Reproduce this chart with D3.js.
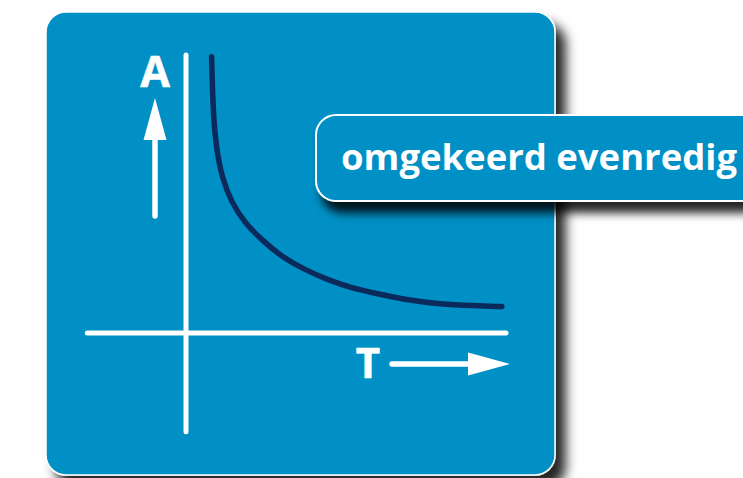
<!DOCTYPE html>
<html>
<head>
<meta charset="utf-8">
<script src="https://cdn.jsdelivr.net/npm/d3@7"></script>
<style>
  html, body { margin: 0; padding: 0; background: #ffffff; }
  svg { display: block; }
</style>
</head>
<body>
<script>
// ---- data ----
const T_values = [0.96, 1.02, 1.15, 1.34, 1.71, 2.21, 2.84, 3.59, 4.46, 5.33, 6.21, 7.01, 8.28, 9.53, 10.76, 11.84];
const A_values = [9.94, 7.78, 6.58, 5.62, 4.68, 3.96, 3.35, 2.74, 2.27, 1.91, 1.62, 1.44, 1.19, 1.04, 0.98, 0.95];
const xAxisExtent = [-3.7, 12];
const yAxisExtent = [-3.55, 10];
const xLabel = "T";
const yLabel = "A";
const titleLabel = "omgekeerd evenredig";

const W = 743, H = 478;
const blue = "#0090c5", navy = "#0b2a5c";

const svg = d3.select("body").append("svg").attr("width", W).attr("height", H);
const defs = svg.append("defs");
const f1 = defs.append("filter").attr("id", "shPanel").attr("x", "-10%").attr("y", "-10%").attr("width", "130%").attr("height", "130%");
f1.append("feDropShadow").attr("dx", 10).attr("dy", 12).attr("stdDeviation", 6)
  .attr("flood-color", "#000").attr("flood-opacity", 0.85);
const f2 = defs.append("filter").attr("id", "shLabel").attr("x", "-10%").attr("y", "-20%").attr("width", "130%").attr("height", "160%");
f2.append("feDropShadow").attr("dx", 6).attr("dy", 11).attr("stdDeviation", 5)
  .attr("flood-color", "#000").attr("flood-opacity", 0.85);

// panel
svg.append("rect").attr("x", 46).attr("y", 12).attr("width", 509).attr("height", 463)
  .attr("rx", 20).attr("fill", blue).attr("stroke", "#fff").attr("stroke-width", 1.5)
  .attr("filter", "url(#shPanel)");

// scales
const x = d3.scaleLinear().domain([0, 12]).range([186, 506]);
const y = d3.scaleLinear().domain([0, 10]).range([333, 55]);

const g = svg.append("g");
// axes
g.append("line").attr("x1", x(xAxisExtent[0])).attr("x2", x(xAxisExtent[1]))
  .attr("y1", y(0)).attr("y2", y(0))
  .attr("stroke", "#fff").attr("stroke-width", 5).attr("stroke-linecap", "round");
g.append("line").attr("x1", x(0)).attr("x2", x(0))
  .attr("y1", y(yAxisExtent[1])).attr("y2", y(yAxisExtent[0]))
  .attr("stroke", "#fff").attr("stroke-width", 5).attr("stroke-linecap", "round");

// curve
const pts = T_values.map((t, i) => [t, A_values[i]]);
g.append("path").datum(pts)
  .attr("d", d3.line().x(d => x(d[0])).y(d => y(d[1])).curve(d3.curveBasis))
  .attr("fill", "none").attr("stroke", navy).attr("stroke-width", 5.5).attr("stroke-linecap", "round");

// y label + up arrow
g.append("text").attr("x", 155).attr("y", 87).attr("text-anchor", "middle")
  .attr("font-family", "Open Sans, sans-serif").attr("font-weight", 700).attr("font-size", 43)
  .attr("fill", "#fff").attr("stroke", "#fff").attr("stroke-width", 0.6).attr("stroke-linejoin", "round")
  .text(yLabel);
g.append("line").attr("x1", 155).attr("x2", 155).attr("y1", 216).attr("y2", 138)
  .attr("stroke", "#fff").attr("stroke-width", 5.5).attr("stroke-linecap", "round");
g.append("path").attr("d", "M155,98 L166.5,140 L143.5,140 Z").attr("fill", "#fff");

// x label + right arrow
g.append("text").attr("x", 368).attr("y", 378).attr("text-anchor", "middle")
  .attr("font-family", "Open Sans, sans-serif").attr("font-weight", 700).attr("font-size", 42)
  .attr("fill", "#fff").attr("stroke", "#fff").attr("stroke-width", 0.6).attr("stroke-linejoin", "round")
  .text(xLabel);
g.append("line").attr("x1", 392).attr("x2", 472).attr("y1", 364).attr("y2", 364)
  .attr("stroke", "#fff").attr("stroke-width", 5.5).attr("stroke-linecap", "round");
g.append("path").attr("d", "M510,364 L468,352.5 L468,375.5 Z").attr("fill", "#fff");

// label box
svg.append("rect").attr("x", 316).attr("y", 115).attr("width", 470).attr("height", 86)
  .attr("rx", 20).attr("fill", blue).attr("stroke", "#fff").attr("stroke-width", 2)
  .attr("filter", "url(#shLabel)");
svg.append("text").attr("x", 341).attr("y", 170)
  .attr("font-family", "Open Sans, sans-serif").attr("font-weight", 700).attr("font-size", 36)
  .attr("textLength", 396).attr("lengthAdjust", "spacingAndGlyphs")
  .attr("fill", "#fff")
  .text(titleLabel);
</script>
</body>
</html>
